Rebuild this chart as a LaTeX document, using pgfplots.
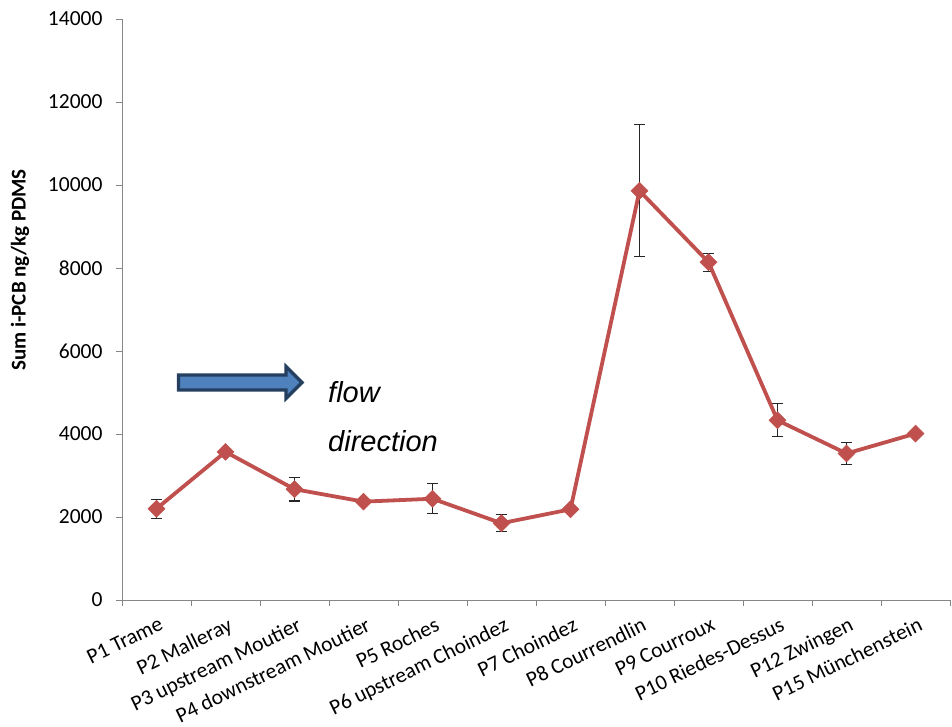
\documentclass[border=0pt]{standalone}
\usepackage{fontspec}
\setmainfont{Carlito}
\newfontfamily\arialfont{Liberation Sans}
\usepackage{pgfplots}
\pgfplotsset{compat=1.18}
\definecolor{linered}{HTML}{C0504D}
\definecolor{axgray}{HTML}{868686}
\definecolor{arrowfill}{HTML}{4F81BD}
\definecolor{arrowdraw}{HTML}{243F60}
\pgfplotstableread{
x y
0 2200
1 3570
2 2670
3 2370
4 2440
5 1850
6 2185
7 9860
8 8140
9 4330
10 3530
11 4010
}\meandata
\pgfplotstableread{
x y e
0 2200 230
2 2670 285
4 2440 365
5 1850 200
7 9860 1590
8 8140 215
9 4330 400
10 3530 265
}\errdata
\begin{document}
\begin{tikzpicture}
\begin{axis}[
  at={(0,0)}, anchor=south west,
  scale only axis, width=828bp, height=581bp,
  xmin=-0.5, xmax=11.5, ymin=0, ymax=14000,
  axis x line=bottom, axis y line=left,
  axis line style={-, draw=axgray, line width=0.9bp},
  clip=false,
  tick align=outside,
  xtick={0,...,11},
  xticklabels={P1 Trame, P2 Malleray, P3 upstream Moutier, P4 downstream Moutier, P5 Roches, P6 upstream Choindez, P7 Choindez, P8 Courrendlin, P9 Courroux, P10 Riedes-Dessus, P12 Zwingen, P15 Münchenstein},
  major x tick style={draw=none},
  minor xtick={-0.5,0.5,...,11.5},
  minor x tick style={draw=axgray, line width=0.9bp},
  minor tick length=6bp,
  ytick={0,2000,...,14000},
  major y tick style={draw=axgray, line width=0.9bp},
  major tick length=6bp,
  scaled y ticks=false,
  /pgf/number format/1000 sep={},
  /pgf/number format/assume math mode=true,
  tick label style={font=\fontsize{21.5bp}{25bp}\selectfont, text=black},
  xticklabel style={rotate=26, anchor=north east, inner sep=1bp, yshift=-9bp, xshift=-2bp},
  yticklabel style={xshift=-10bp},
]
\addplot[draw=none, mark=none, forget plot,
  error bars/.cd, y dir=both, y explicit,
  error bar style={draw=black!85, line width=1.1bp},
  error mark options={rotate=90, mark size=5.5bp, draw=black!85, line width=1.1bp}]
  table[x=x, y=y, y error=e] {\errdata};
\addplot[color=linered, line width=3.8bp, mark=square*, mark size=6bp,
  mark options={rotate=45, fill=linered, draw=linered, line width=0.5bp, solid}]
  table[x=x, y=y] {\meandata};
\end{axis}
% flow-direction arrow and text
\draw[fill=arrowfill, draw=arrowdraw, line width=3.2bp, line join=miter]
  (56.5bp,217.5bp) ++(0,7.5bp) -- ++(107.5bp,0) -- ++(0,8.5bp) -- ++(16bp,-16bp)
  -- ++(-16bp,-16bp) -- ++(0,8.5bp) -- ++(-107.5bp,0) -- cycle;
\node[anchor=base west, inner sep=0pt, font=\arialfont\itshape\fontsize{29bp}{33bp}\selectfont] at (206bp,197bp) {flow};
\node[anchor=base west, inner sep=0pt, font=\arialfont\itshape\fontsize{29bp}{33bp}\selectfont] at (206bp,148bp) {direction};
\node[rotate=90, font=\bfseries\fontsize{21bp}{25bp}\selectfont] at (-102bp,330bp) {Sum i-PCB ng/kg PDMS};
\pgfresetboundingbox
\path (-122bp,-127bp) rectangle (830bp,600bp);
\end{tikzpicture}
\end{document}
